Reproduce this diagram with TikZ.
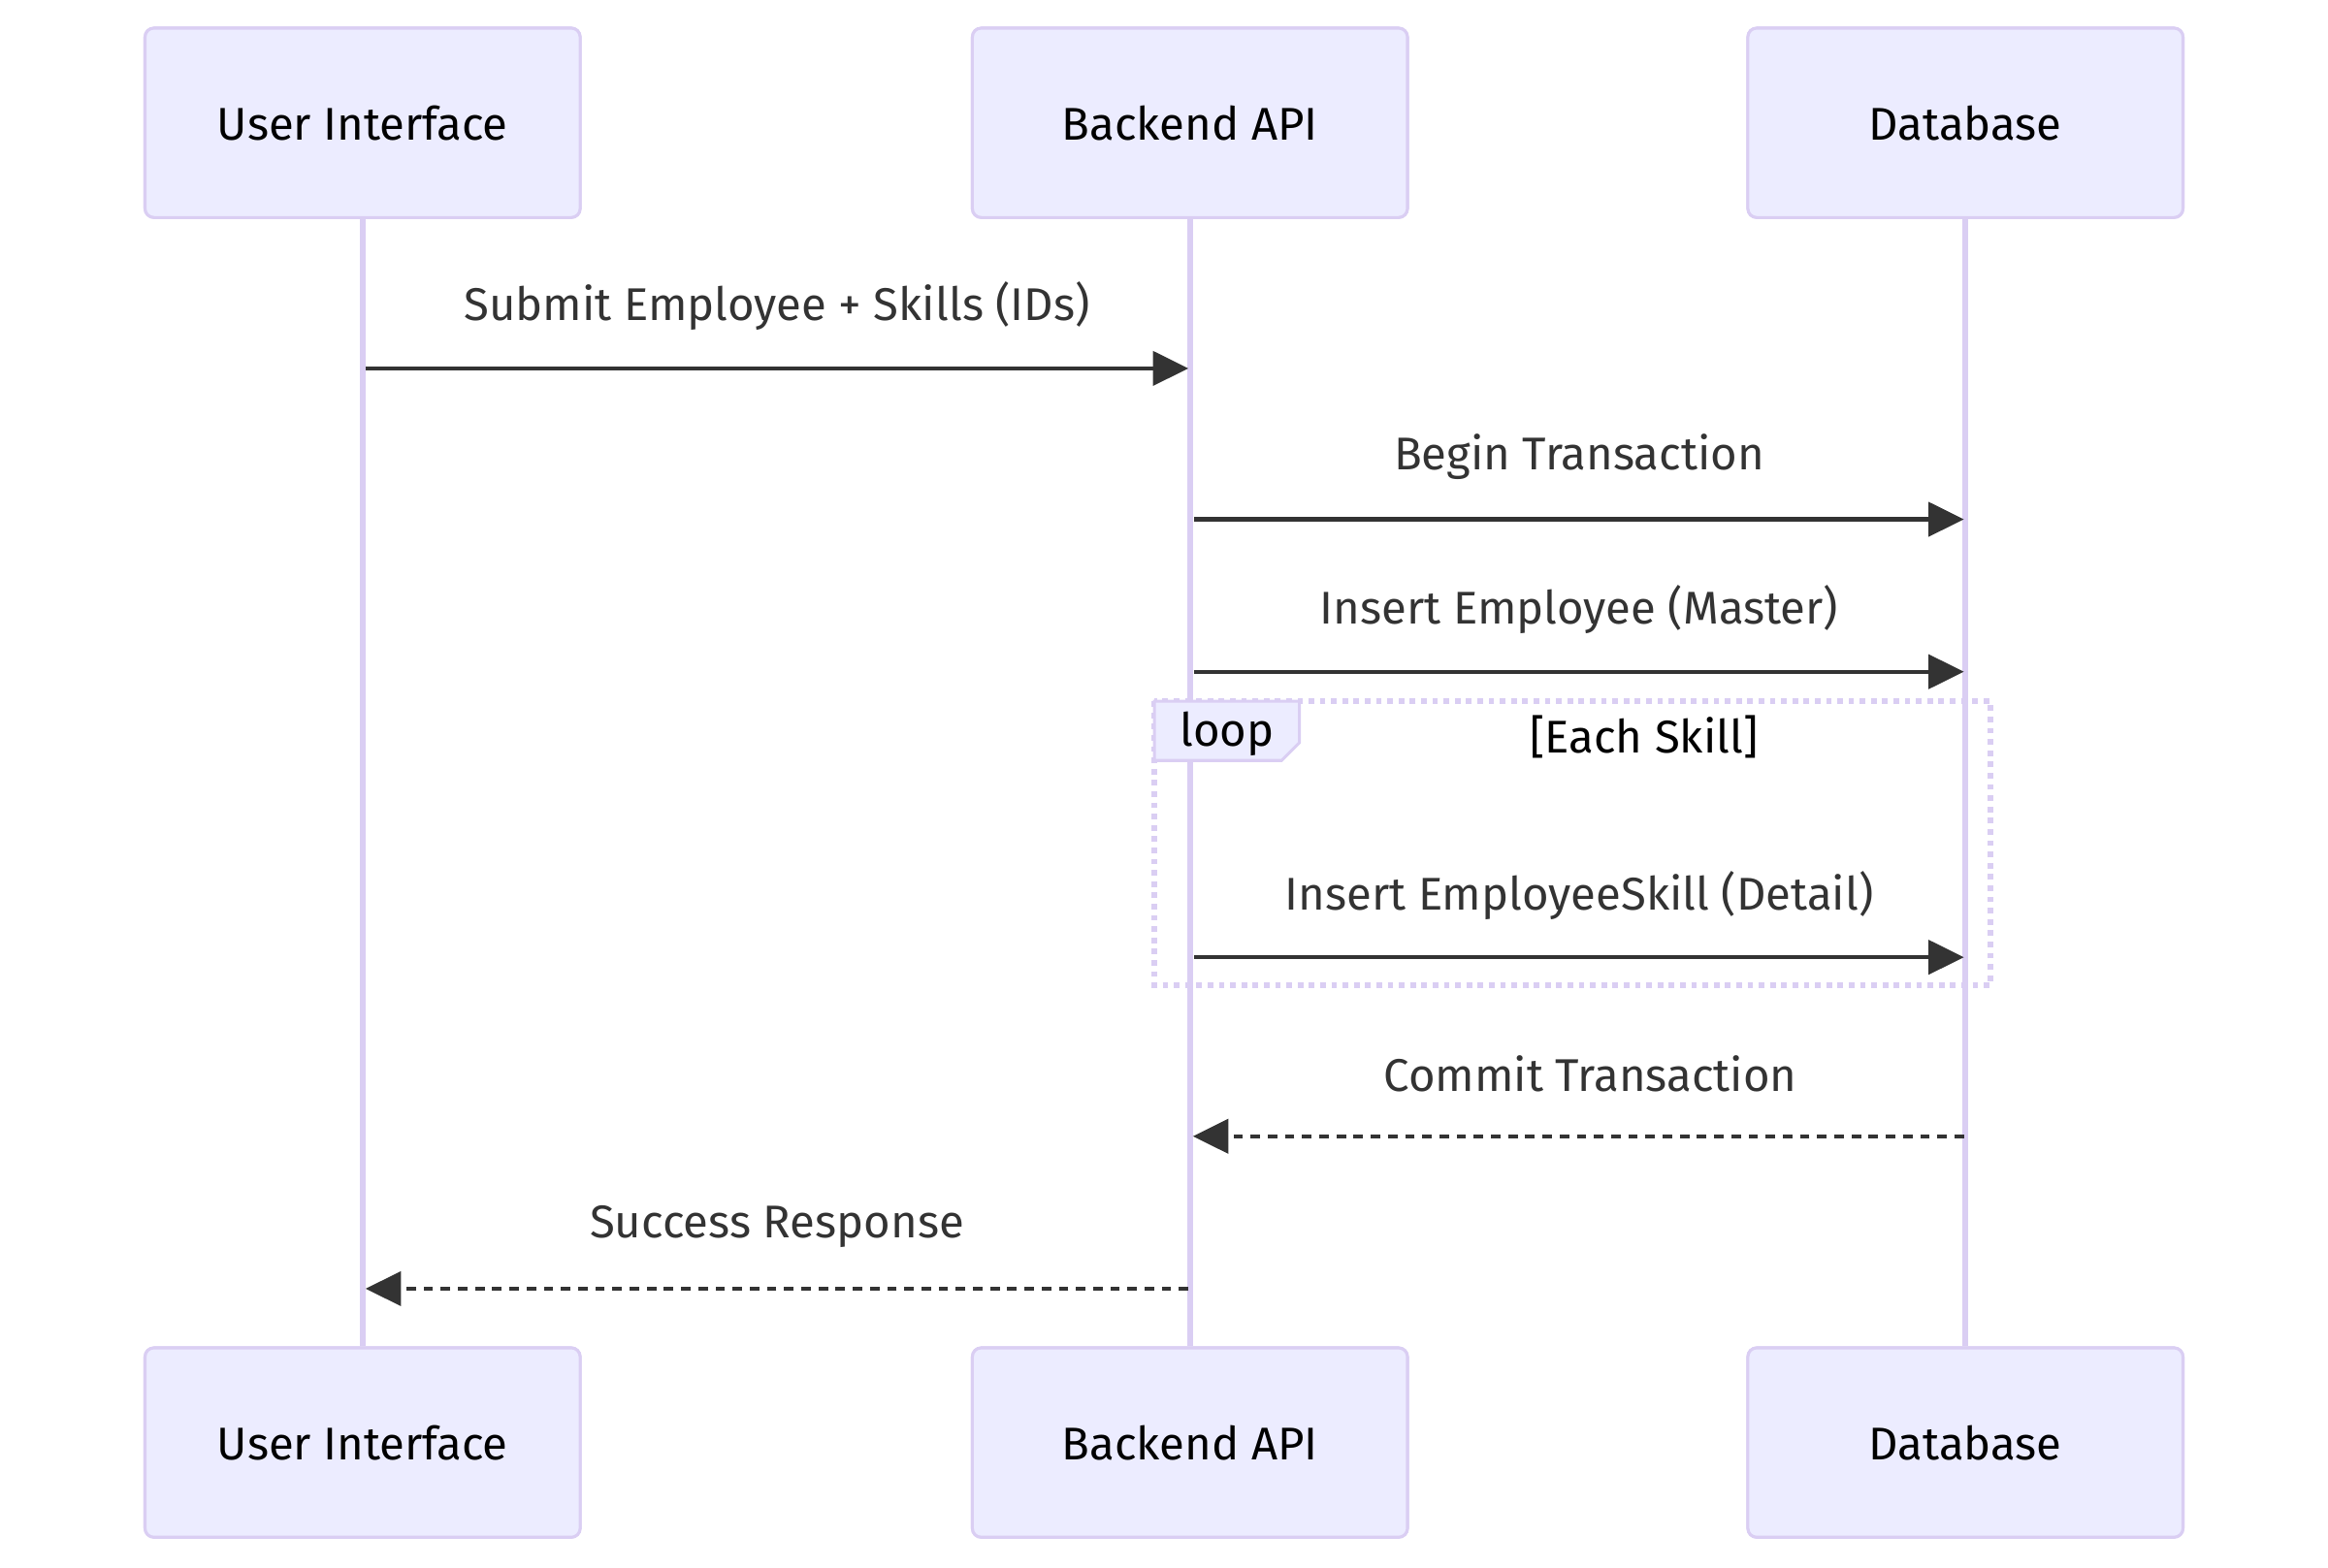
\documentclass[tikz,border=0pt]{standalone}
\usepackage{fontspec}
\setmainfont{Fira Sans}
\usetikzlibrary{positioning}
\usetikzlibrary {arrows.meta}
\definecolor{actorfill}{HTML}{ECECFF}
\definecolor{actorline}{HTML}{DACEF3}
\definecolor{msgline}{HTML}{333333}
\newcommand{\seqfont}{\fontsize{15.5}{18}\selectfont}
\tikzset{actor/.style={rectangle,rounded corners=3pt,draw=actorline,fill=actorfill,
line width=1pt,minimum width=147pt,minimum height=64pt,text=black,font=\seqfont}}
\tikzset{lifeline/.style={draw=actorline,line width=1.9pt}}
\tikzset{msg/.style={draw=msgline,line width=1.4pt,-{Triangle[length=12pt,width=11.5pt]}}}
\tikzset{reply/.style={msg,dash pattern=on 3.2pt off 2.6pt}}
\tikzset{msglabel/.style={text=msgline,font=\seqfont,yshift=21pt}}
\tikzset{loopframe/.style={draw=actorline,line width=1.9pt,dash pattern=on 1.9pt off 1.9pt}}
\tikzset{looptab/.style={draw=actorline,fill=actorfill,line width=1pt}}

\begin{document}
\begin{tikzpicture}[x=0.5pt,y=-0.5pt]
        \useasboundingbox (0,0) rectangle (1573,1059.8);

        \node[actor] (uiTop) at (245,83) {User Interface};
        \node[actor] (apiTop) [right=131.5pt of uiTop] {Backend API};
        \node[actor] (dbTop) [right=114pt of apiTop] {Database};

        \node[actor] (uiBot) [below=381pt of uiTop] {User Interface};
        \node[actor] (apiBot) [below=381pt of apiTop] {Backend API};
        \node[actor] (dbBot) [below=381pt of dbTop] {Database};

        \draw[lifeline] (uiTop) -- (uiBot);
        \draw[lifeline] (apiTop) -- (apiBot);
        \draw[lifeline] (dbTop) -- (dbBot);
        % redraw boxes over the lifeline ends
        \node[actor] at (uiTop) {User Interface};
        \node[actor] at (apiTop) {Backend API};
        \node[actor] at (dbTop) {Database};
        \node[actor] at (uiBot) {User Interface};
        \node[actor] at (apiBot) {Backend API};
        \node[actor] at (dbBot) {Database};

        \coordinate (uiA) at ([xshift=1pt]uiTop |- 0,249);
        \coordinate (apiA) at ([xshift=-0.5pt]apiTop |- 0,249);
        \draw[msg] (uiA) -- node[msglabel] {Submit Employee + Skills (IDs)} (apiA);

        \coordinate (apiB) at ([xshift=1.5pt]apiTop |- 0,351);
        \coordinate (dbB) at ([xshift=-0.5pt]dbTop |- 0,351);
        \draw[msg] (apiB) -- node[msglabel] {Begin Transaction} (dbB);

        \coordinate (apiC) at ([xshift=1.5pt]apiTop |- 0,454);
        \coordinate (dbC) at ([xshift=-0.5pt]dbTop |- 0,454);
        \draw[msg] (apiC) -- node[msglabel] {Insert Employee (Master)} (dbC);

        % loop block
        \draw[loopframe] (780,474) rectangle (1345,666);
        \draw[looptab] (780,474) -- (878,474) -- (878,502) -- (866,514) -- (780,514) -- cycle;
        \node[text=black,font=\seqfont] (loopTag) at (829,496) {loop};
        \node[text=black,font=\seqfont] (loopCond) at (1111,498) {[Each Skill]};

        \coordinate (apiD) at ([xshift=1.5pt]apiTop |- 0,647);
        \coordinate (dbD) at ([xshift=-0.5pt]dbTop |- 0,647);
        \draw[msg] (apiD) -- node[msglabel] {Insert EmployeeSkill (Detail)} (dbD);

        \coordinate (dbE) at ([xshift=-0.5pt]dbTop |- 0,768);
        \coordinate (apiE) at ([xshift=1pt]apiTop |- 0,768);
        \draw[reply] (dbE) -- node[msglabel,xshift=4pt] {Commit Transaction} (apiE);

        \coordinate (apiF) at ([xshift=-0.5pt]apiTop |- 0,871);
        \coordinate (uiF) at ([xshift=1pt]uiTop |- 0,871);
        \draw[reply] (apiF) -- node[msglabel] {Success Response} (uiF);

    \end{tikzpicture}
\end{document}
